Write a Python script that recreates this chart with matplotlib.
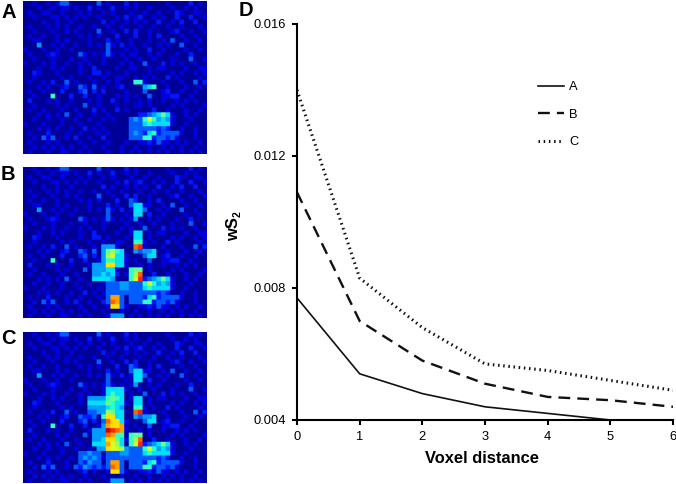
import numpy as np
import matplotlib
matplotlib.use("Agg")
import matplotlib.pyplot as plt

plt.rcParams['font.family'] = ['Liberation Sans', 'DejaVu Sans']

# panel A voxels, hex digit per cell (0 = navy ... f = dark red)
grid_a = """
0010010133 0000003010 0020100000 0100002010
0001001011 0100201002 0010100100 0010010100
0100110010 0010100101 0001001001 0002100110
0010001101 0101001000 1020120010 1002002001
0000100100 1000000201 0010101002 0010200200
0100010101 0010010010 0100010010 0100100010
0010001001 0100003001 0020200100 0012001001
0100100100 0010101000 2000200102 0000100100
0011000101 0000100020 1001000100 1030010010
0004001010 0100101031 0201001001 0100300100
1000100100 1000000030 0010100200 1000010010
0100012100 0031010131 0101100101 0001002000
0010001000 1001000100 0010010010 0010003001
1000101001 0010100100 0101003000 2010100100
0001001010 0010020000 1001100101 1000010011
0021000100 0010022010 0010000100 0010100101
0010000010 1000100100 1100101010 0201000010
0100102003 0100010010 1000661000 1000100302
0001010012 0032030100 1200004560 0100010010
0100100020 0023020200 0010003000 1200100100
0010006000 2002001000 1010100300 1122001000
0200010100 1000101002 0010010100 1001010100
0010000101 0003001000 1000110100 0010100001
0100100010 0100020100 2010000020 0100010010
0001010103 0010010010 0000022345 7510010100
0010010010 0100100101 0003436964 5410001000
1000100010 0010001000 0003335655 5510010000
0001010100 1002010100 0003333332 3200100100
0100020001 0010001010 0003432562 3333100100
0010313001 0200100200 0003336623 3231000100
0100010100 0010010010 0010011213 1101010010
0010101010 1001000100 0100100100 1010100100
0100010011 0010100010 0101010101 0100101010
"""
rows_a = [r.replace(' ', '') for r in grid_a.strip().splitlines()]

# extra voxels active in B: (row, first column, hex digits)
patch_b = [
    (7, 23, "3"), (8, 23, "3551"), (9, 24, "553"), (10, 24, "55"), (11, 24, "4"),
    (14, 24, "55"), (15, 24, "55"), (16, 24, "66"), (17, 24, "cd"), (18, 24, "43"),
    (18, 27, "45"), (19, 27, "55"),
    (17, 17, "444"), (18, 17, "47865"), (19, 17, "48955"), (20, 17, "46655"),
    (21, 15, "444"), (21, 18, "aa55"), (22, 15, "44455"), (22, 23, "677"),
    (23, 15, "44545"), (23, 23, "68c"), (24, 15, "55554"), (24, 23, "69d"),
    (25, 18, "33344"), (25, 23, "33"), (26, 18, "33344"), (26, 23, "33"),
    (27, 18, "33333"), (27, 23, "33"), (28, 18, "3bb3"), (28, 23, "33"),
    (29, 18, "3cb3"), (29, 23, "33"), (30, 19, "aa3"),
    (32, 19, "444"),
]

# extra voxels active in C, on top of B
patch_c = [
    (12, 18, "5555"), (13, 18, "5655"), (14, 14, "4444676"), (14, 21, "5"),
    (15, 14, "55557655"), (16, 14, "44445654"), (17, 14, "3344"), (17, 18, "8755"),
    (18, 14, "23"), (18, 17, "6aa55"), (19, 17, "3caa5"), (20, 18, "baab"),
    (21, 18, "edcb"), (22, 18, "cb66"), (23, 18, "aa75"), (24, 18, "b985"),
    (25, 16, "44a998"), (26, 12, "33433"), (27, 12, "34343"), (28, 12, "32433"),
    (29, 11, "324323"), (30, 13, "2"),
]

distance = [0, 1, 2, 3, 4, 5, 6]
ws2_a = [0.0077, 0.0054, 0.0048, 0.0044, 0.0042, 0.0040, 0.0039]
ws2_b = [0.0109, 0.0070, 0.0058, 0.0051, 0.0047, 0.0046, 0.0044]
ws2_c = [0.0140, 0.0083, 0.0068, 0.0057, 0.0055, 0.0052, 0.0049]
y_ticks = [0.004, 0.008, 0.012, 0.016]


def to_array(rows):
    return np.array([[int(c, 16) for c in r] for r in rows], dtype=float)


def apply_patch(arr, patch):
    arr = arr.copy()
    for row, col, digits in patch:
        for i, c in enumerate(digits):
            arr[row, col + i] = int(c, 16)
    return arr


img_a = to_array(rows_a)
img_b = apply_patch(img_a, patch_b)
img_c = apply_patch(img_b, patch_c)

W, H = 676, 484
fig = plt.figure(figsize=(W / 100, H / 100), dpi=100)


def box(l, t, r, b):
    return [l / W, 1 - b / H, (r - l) / W, (b - t) / H]


panels = [(img_a, 1, 154, 'A', 12), (img_b, 167, 318, 'B', 174), (img_c, 332, 483, 'C', 339)]
for img, top, bottom, name, lab_y in panels:
    ax = fig.add_axes(box(23, top, 207, bottom))
    # blow up so the cells stay blocky with soft edges
    big = np.kron(img, np.ones((4, 4)))
    ax.imshow(big, cmap='jet', vmin=-0.3, vmax=15, aspect='auto', interpolation='bilinear')
    ax.axis('off')
    fig.text(1 / W, 1 - lab_y / H, name, fontsize=14.5, fontweight='bold', va='center')

fig.text(239 / W, 1 - 11 / H, 'D', fontsize=14.5, fontweight='bold', va='center')

ax = fig.add_axes(box(297, 24, 673, 420))
l1, = ax.plot(distance, ws2_a, color='#111111', lw=1.2, label='A')
l2, = ax.plot(distance, ws2_b, color='#111111', lw=1.7, ls=(0, (5, 3)), label='B')
l3, = ax.plot(distance, ws2_c, color='#111111', lw=2.2, ls=(0, (0.5, 1.2)), label='C')
ax.set_xlim(0, 6)
ax.set_ylim(0.004, 0.016)
ax.set_xticks(distance)
ax.set_yticks(y_ticks)
ax.set_yticklabels(['%.3f' % v for v in y_ticks])
ax.tick_params(axis='y', length=3.6, width=1.5, labelsize=9.3, pad=4.5)
ax.tick_params(axis='x', length=3.6, width=1.5, labelsize=9.3, pad=4.5)
for s in ['top', 'right']:
    ax.spines[s].set_visible(False)
for s in ['left', 'bottom']:
    ax.spines[s].set_linewidth(1.5)
ax.set_xlabel('Voxel distance', fontsize=11.9, fontweight='bold', labelpad=5.5,
              x=(482 - 297) / 376)
fig.text(234 / W, 1 - 229 / H, 'wS', fontsize=11.9, fontweight='bold',
         rotation=90, va='center', ha='center')
fig.text(238 / W, 1 - 214 / H, '2', fontsize=7.5, fontweight='bold',
         rotation=90, va='center', ha='center')
ax.legend(handles=[l1, l2, l3], frameon=False, fontsize=9.3, handlelength=2.0,
          handletextpad=0.4, labelspacing=1.2, loc='upper left',
          bbox_to_anchor=((538 - 297) / 376, (420 - 81) / 396), borderpad=0, borderaxespad=0)

fig.savefig('out.png', dpi=100)
